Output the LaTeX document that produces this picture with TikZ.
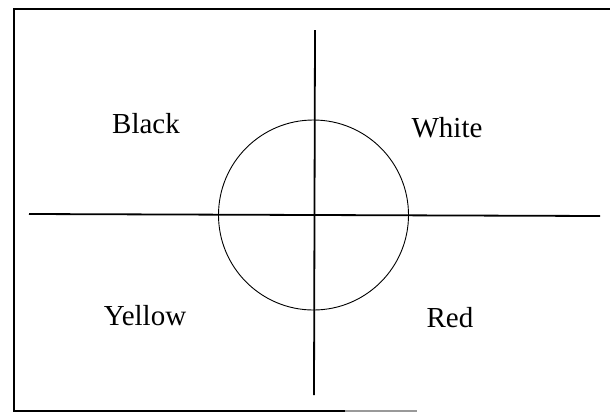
\documentclass[tikz,border=0pt]{standalone}
\usepackage{fontspec}
\setmainfont{Liberation Serif}
\usepackage{tikz}
\usetikzlibrary{positioning, calc}

\begin{document}
\begin{tikzpicture}[x=1pt, y=-1pt,
    frame/.style={line width=2.6pt, black},
    axis/.style={line width=1.8pt, black},
    ring/.style={circle, draw, line width=0.9pt, minimum size=190pt, inner sep=0pt},
    colour/.style={anchor=base, font=\fontsize{29}{29}\selectfont, inner sep=0pt}
  ]
    \useasboundingbox (0,0) rectangle (610,413);
    % scanned frame, right side not shown
    \draw[frame] (610,9) -- (14,9) -- (14,411) -- (345,411);
    \draw[frame, black!40] (345,411) -- (417,411);

    \node[ring] at (313.5,215) (disc) {};
    \coordinate (top) at (315,30);
    \coordinate (bottom) at (314,395);
    \coordinate (left) at (29,214);
    \coordinate (right) at (600,216);
    \draw[axis] (top) -- (bottom);
    \draw[axis] (left) -- (right);

    \node[colour] at (146,133) (black) {Black};
    \node[colour] at (447,137) (white) {White};
    \node[colour] at (145,325) (yellow) {Yellow};
    \node[colour] at (450,327) (red) {Red};
  \end{tikzpicture}
\end{document}
